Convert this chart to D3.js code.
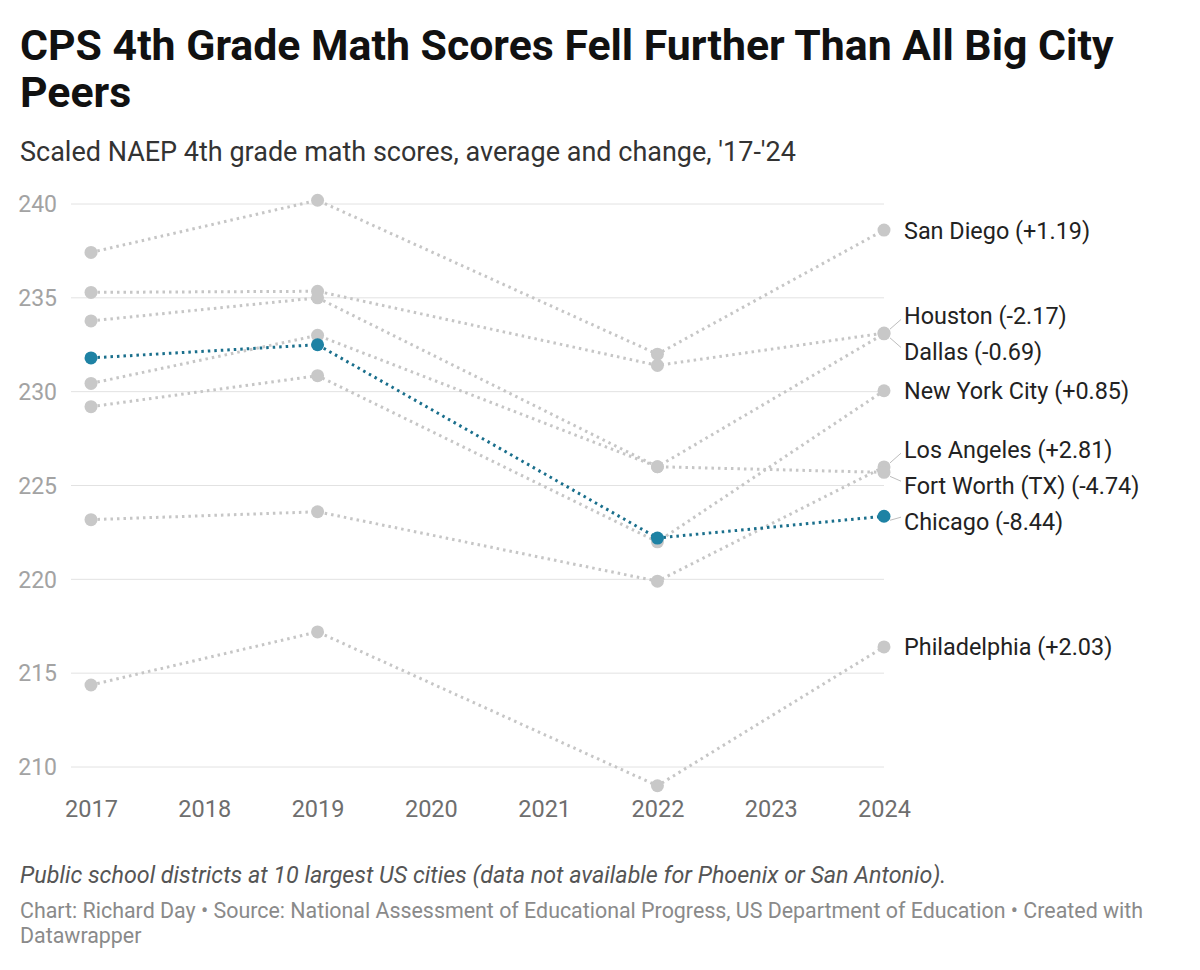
<!DOCTYPE html>
<html>
<head>
<meta charset="utf-8">
<script src="https://cdn.jsdelivr.net/npm/d3@7"></script>
<style>
  body { margin: 0; background: #fff; }
  svg { display: block; font-family: Roboto, "Noto Sans", sans-serif; }
</style>
</head>
<body>
<svg id="chart" width="1200" height="970"></svg>
<script>
// data
var years = [2017, 2019, 2022, 2024];
var cities = ['San Diego', 'Houston', 'Dallas', 'New York City', 'Los Angeles', 'Fort Worth (TX)', 'Philadelphia', 'Chicago'];
var changes = ['+1.19', '-2.17', '-0.69', '+0.85', '+2.81', '-4.74', '+2.03', '-8.44'];
var sanDiego = [237.42, 240.2, 232.0, 238.61];
var houston = [235.29, 235.35, 231.4, 233.12];
var dallas = [233.77, 235.0, 226.0, 233.08];
var newYork = [229.2, 230.85, 222.0, 230.05];
var losAngeles = [223.18, 223.6, 219.9, 225.99];
var fortWorth = [230.44, 233.0, 226.0, 225.7];
var philadelphia = [214.37, 217.2, 209.0, 216.4];
var chicago = [231.8, 232.5, 222.2, 223.36];
var scores = [sanDiego, houston, dallas, newYork, losAngeles, fortWorth, philadelphia, chicago];
var yTicks = [210, 215, 220, 225, 230, 235, 240];
var xTicks = [2017, 2018, 2019, 2020, 2021, 2022, 2023, 2024];

var svg = d3.select('#chart');

var x = d3.scaleLinear().domain([2017, 2024]).range([91, 884]);
var y = d3.scaleLinear().domain([210, 240]).range([767, 204]);

// header
var title = svg.append('text')
    .attr('x', 20)
    .attr('y', 60)
    .style('font-size', '42.8px')
    .style('font-weight', 'bold')
    .style('fill', '#111');
title.append('tspan').attr('x', 20).text('CPS 4th Grade Math Scores Fell Further Than All Big City');
title.append('tspan').attr('x', 20).attr('dy', 47).text('Peers');

svg.append('text')
    .attr('x', 20)
    .attr('y', 161)
    .style('font-size', '27px')
    .style('fill', '#333')
    .text("Scaled NAEP 4th grade math scores, average and change, '17-'24");

// grid + y labels
svg.append('g')
    .selectAll('line')
    .data(yTicks)
  .enter().append('line')
    .attr('x1', 71)
    .attr('x2', 884)
    .attr('y1', function (d) { return y(d); })
    .attr('y2', function (d) { return y(d); })
    .style('stroke', '#e2e2e2')
    .style('stroke-width', 1);

svg.append('g')
    .selectAll('text')
    .data(yTicks)
  .enter().append('text')
    .attr('x', 57)
    .attr('y', function (d) { return y(d); })
    .attr('dy', '0.36em')
    .attr('text-anchor', 'end')
    .style('font-size', '23px')
    .style('fill', '#a3a3a3')
    .text(function (d) { return d; });

// x axis labels
var xAxis = d3.axisBottom(x)
    .tickValues(xTicks)
    .tickFormat(d3.format('d'))
    .tickSize(0)
    .tickPadding(0);
var xg = svg.append('g')
    .attr('transform', 'translate(0,800)')
    .call(xAxis);
xg.select('.domain').remove();
xg.selectAll('text')
    .style('font-family', 'Roboto, sans-serif')
    .style('font-size', '23.5px')
    .style('fill', '#6e6e6e');

// lines
var line = d3.line()
    .x(function (d, i) { return x(years[i]); })
    .y(function (d) { return y(d); });

var isChicago = function (i) { return cities[i] === 'Chicago'; };

var series = svg.append('g')
    .selectAll('g')
    .data(scores)
  .enter().append('g');

series.append('path')
    .attr('d', line)
    .style('fill', 'none')
    .style('stroke', function (d, i) { return isChicago(i) ? '#1a6f8c' : '#c6c6c6'; })
    .style('stroke-width', 3)
    .style('stroke-dasharray', '2.5,4');

series.selectAll('circle')
    .data(function (d, i) { return d.map(function (v) { return { v: v, i: i }; }); })
  .enter().append('circle')
    .attr('cx', function (d, j) { return x(years[j]); })
    .attr('cy', function (d) { return y(d.v); })
    .attr('r', 6.5)
    .style('fill', function (d) { return isChicago(d.i) ? '#1e82a4' : '#c8c8c8'; });

// right-hand labels, nudged apart where they collide
var labels = cities.map(function (c, i) {
  var last = scores[i][scores[i].length - 1];
  return { name: c + ' (' + changes[i] + ')', y0: y(last), y: y(last) };
});
var sorted = labels.slice().sort(function (a, b) { return a.y0 - b.y0; });
var gap = 36;
for (var k = 0; k < 300; k++) {
  for (var j = 1; j < sorted.length; j++) {
    var d = sorted[j].y - sorted[j - 1].y;
    if (d < gap) {
      var push = (gap - d) / 2;
      sorted[j - 1].y -= push;
      sorted[j].y += push;
    }
  }
}

var lx = x(2024);
svg.append('g')
    .selectAll('line')
    .data(labels.filter(function (l) { return Math.abs(l.y - l.y0) > 4; }))
  .enter().append('line')
    .attr('x1', lx + 6)
    .attr('y1', function (l) { return l.y0 + (l.y < l.y0 ? -4 : 4); })
    .attr('x2', lx + 17)
    .attr('y2', function (l) { return l.y + (l.y < l.y0 ? 4 : -4); })
    .style('stroke', '#bdbdbd')
    .style('stroke-width', 1);

svg.append('g')
    .selectAll('text')
    .data(labels)
  .enter().append('text')
    .attr('x', lx + 20)
    .attr('y', function (l) { return l.y; })
    .attr('dy', '0.36em')
    .style('font-size', '23.4px')
    .style('fill', '#222')
    .text(function (l) { return l.name; });

// footer
svg.append('text')
    .attr('x', 20)
    .attr('y', 883)
    .style('font-size', '23.3px')
    .style('font-style', 'italic')
    .style('fill', '#555')
    .text('Public school districts at 10 largest US cities (data not available for Phoenix or San Antonio).');

var credit = svg.append('text')
    .attr('x', 20)
    .attr('y', 918)
    .style('font-size', '21.4px')
    .style('fill', '#8a8a8a');
credit.append('tspan').attr('x', 20).text('Chart: Richard Day \u2022 Source: National Assessment of Educational Progress, US Department of Education \u2022 Created with');
credit.append('tspan').attr('x', 20).attr('dy', 25).text('Datawrapper');
</script>
</body>
</html>
